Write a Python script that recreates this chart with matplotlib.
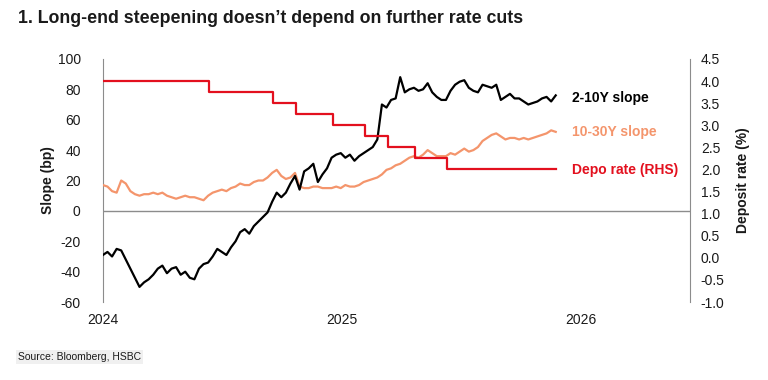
import matplotlib
matplotlib.use("Agg")
import matplotlib.pyplot as plt
import matplotlib.dates as mdates
import numpy as np
import pandas as pd

plt.rcParams['font.family'] = ['Liberation Sans Narrow', 'Liberation Sans', 'DejaVu Sans']
plt.rcParams['axes.unicode_minus'] = False

# weekly observations, Jan 2024 - Nov 2025
weeks = pd.date_range("2024-01-01", periods=100, freq="7D")

slope_2_10 = [
    -29, -27, -30, -25, -26, -32, -38, -44, -50, -47,
    -45, -42, -38, -36, -41, -38, -37, -42, -40, -44,
    -45, -38, -35, -34, -30, -25, -27, -29, -24, -20,
    -14, -12, -15, -10, -7, -4, -1, 6, 12, 9,
    12, 18, 23, 14, 26, 28, 31, 19, 24, 28,
    35, 37, 38, 35, 37, 33, 36, 38, 40, 42,
    47, 70, 68, 73, 74, 88, 78, 80, 81, 79,
    80, 84, 78, 75, 73, 73, 79, 83, 85, 86,
    81, 79, 78, 83, 82, 81, 83, 73, 75, 77,
    74, 74, 72, 70, 71, 72, 74, 75, 72, 76,
]

slope_10_30 = [
    17, 16, 13, 12, 20, 18, 13, 11, 10, 11,
    11, 12, 11, 12, 10, 9, 8, 9, 10, 9,
    9, 8, 7, 10, 12, 13, 14, 13, 15, 16,
    18, 17, 17, 19, 20, 20, 22, 25, 27, 23,
    21, 22, 25, 16, 15, 15, 16, 16, 15, 15,
    15, 16, 15, 17, 16, 16, 17, 19, 20, 21,
    22, 24, 27, 28, 30, 31, 33, 35, 36, 35,
    37, 40, 38, 36, 36, 36, 38, 37, 39, 41,
    39, 40, 42, 46, 48, 50, 51, 49, 47, 48,
    48, 47, 48, 47, 48, 49, 50, 51, 53, 52,
]

# ECB deposit rate changes
depo_dates = pd.to_datetime([
    "2024-01-01", "2024-06-12", "2024-09-18", "2024-10-23", "2024-12-18",
    "2025-02-05", "2025-03-12", "2025-04-23", "2025-06-11", "2025-11-24",
])
depo_rate = [4.0, 3.75, 3.5, 3.25, 3.0, 2.75, 2.5, 2.25, 2.0, 2.0]

BLACK = "#000000"
ORANGE = "#F4956C"
RED = "#E3101E"
GREY = "#8C8C8C"
TXT = "#1a1a1a"

fig = plt.figure(figsize=(7.68, 3.8), dpi=100)
ax = fig.add_axes([0.134, 0.205, 0.764, 0.640])
ax2 = ax.twinx()

ax.plot(weeks, slope_10_30, color=ORANGE, lw=1.6, zorder=3)
ax.plot(weeks, slope_2_10, color=BLACK, lw=1.6, zorder=4)
ax2.plot(depo_dates, depo_rate, color=RED, lw=1.6, drawstyle="steps-post")

ax.axhline(0, color=GREY, lw=1.0, zorder=1)

ax.set_xlim(pd.Timestamp("2024-01-01"), pd.Timestamp("2026-06-17"))
ax.set_ylim(-60, 100)
ax.set_yticks(np.arange(-60, 101, 20))
ax2.set_ylim(-1.0, 4.5)
ax2.set_yticks(np.arange(-1.0, 4.51, 0.5))
ax2.yaxis.set_major_formatter(plt.FuncFormatter(lambda v, p: f"{v:.1f}"))

ax.xaxis.set_major_locator(mdates.YearLocator())
ax.xaxis.set_major_formatter(mdates.DateFormatter("%Y"))

for a in (ax, ax2):
    for s in ("top", "bottom"):
        a.spines[s].set_visible(False)
ax.spines["right"].set_visible(False)
ax2.spines["left"].set_visible(False)
ax.spines["left"].set_color(GREY)
ax2.spines["right"].set_color(GREY)

ax.tick_params(axis="y", length=0, pad=16, labelsize=10, labelcolor=TXT)
ax.tick_params(axis="x", length=0, pad=8, labelsize=10, labelcolor=TXT)
ax2.tick_params(axis="y", length=0, pad=8, labelsize=10, labelcolor=TXT)

ax.set_ylabel("Slope (bp)", fontsize=10, fontweight="bold", color=TXT, labelpad=2)
ax2.set_ylabel("Deposit rate (%)", fontsize=10, fontweight="bold", color=TXT, labelpad=8)

# series labels
label_x = pd.Timestamp("2025-12-19")
ax.text(label_x, 74, "2-10Y slope", color=BLACK,
        fontsize=10, fontweight="bold", va="center")
ax.text(label_x, 52, "10-30Y slope", color=ORANGE,
        fontsize=10, fontweight="bold", va="center")
ax.text(label_x, 27, "Depo rate (RHS)", color=RED,
        fontsize=10, fontweight="bold", va="center")

fig.text(0.023, 0.952, "1. Long-end steepening doesn\u2019t depend on further rate cuts",
         fontsize=12.8, fontweight="bold", color=TXT, va="center",
         family=["Liberation Sans", "DejaVu Sans"])
fig.text(0.023, 0.06, "Source: Bloomberg, HSBC", fontsize=7.5, color=TXT, va="center",
         bbox=dict(facecolor="#F0F0F0", edgecolor="none", pad=1.5))

fig.savefig("out.png", dpi=100)
